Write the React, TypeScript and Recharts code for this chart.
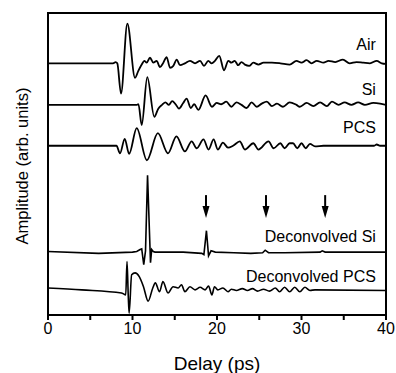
import React from 'react';
import { ComposedChart, Line, XAxis, YAxis, Scatter, ReferenceArea } from 'recharts';

const X_TICKS = [0, 5, 10, 15, 20, 25, 30, 35, 40];
const Y_TICKS = [0, 1, 2, 3, 4];
const TRACE_NAMES = ['Air', 'Si', 'PCS', 'Deconvolved Si', 'Deconvolved PCS'];
const BASELINES = [4.0, 3.34, 2.69, 1.0, 0.4];

// [delay (ps), amplitude relative to trace baseline]
const AIR: [number, number][] = [
  [0, 0], [7.7, 0], [8.0, 0.02], [8.2, 0], [8.64, -0.48], [9.39, 0.63], [10.3, -0.23],
  [10.69, -0.12], [11.09, -0.02], [11.4, 0.04], [11.68, 0.01], [12.07, 0.09], [12.46, 0.01],
  [12.86, 0.04], [13.25, -0.06], [13.65, 0.01], [14.04, 0.1], [14.44, -0.07], [14.83, -0.04],
  [15.23, 0.06], [15.62, -0.03], [16.2, 0], [16.8, 0.04], [17.4, 0], [18.0, 0.04],
  [18.46, -0.04], [18.97, 0.04], [19.37, 0], [19.76, 0.04], [20.27, 0.12], [20.83, -0.11],
  [21.34, 0.04], [21.7, 0.01], [22.1, 0.04], [22.5, -0.03], [22.9, 0.02], [23.3, -0.02],
  [23.8, -0.04], [24.3, 0.01], [24.9, -0.02], [25.5, 0.01], [26.5, 0.01], [27.5, 0],
  [28.6, -0.02], [29.4, 0.04], [30.0, 0.01], [30.6, 0.05], [31.2, 0], [31.8, 0.04],
  [32.6, 0.01], [33.2, 0.04], [34.0, 0.02], [34.9, 0.06], [35.7, 0], [36.5, 0.02],
  [37.3, 0.01], [38.1, 0], [38.9, 0.04], [39.5, 0], [40, -0.01],
];

const SI: [number, number][] = [
  [0, 0], [10.5, 0], [10.7, 0.01], [11.09, -0.32], [11.75, 0.44], [12.58, -0.19],
  [13.05, -0.06], [13.5, 0], [13.9, 0.04], [14.3, 0], [14.7, 0.06], [15.1, 0.01],
  [15.5, -0.06], [16.0, 0.03], [16.4, 0.1], [16.9, -0.05], [17.3, 0.01], [17.8, -0.08],
  [18.65, 0.15], [19.4, -0.03], [19.96, 0.03], [20.5, 0.01], [21.1, 0.05], [21.7, -0.03],
  [22.3, 0.04], [22.9, 0], [23.5, -0.05], [24.1, 0.04], [24.7, -0.03], [25.3, 0.02],
  [25.9, 0.05], [26.5, -0.02], [27.1, 0.02], [27.8, -0.03], [28.6, 0.04], [29.4, 0],
  [29.8, -0.03], [30.6, 0.03], [31.4, -0.02], [32.2, 0.04], [33.0, -0.02], [33.6, 0.05],
  [34.4, 0], [35.1, 0.04], [35.9, 0], [36.7, 0.04], [37.5, 0], [38.5, 0.03], [39.3, 0.02],
  [40, 0],
];

const PCS: [number, number][] = [
  [0, 0], [8.1, 0], [8.52, -0.12], [9.08, 0.11], [9.6, -0.13], [10.5, 0.28], [11.7, -0.23],
  [13.0, 0.2], [14.2, -0.12], [15.2, 0.15], [16.2, -0.09], [17.0, 0.07], [17.6, -0.04],
  [18.4, 0.1], [19.0, -0.06], [19.6, 0.1], [20.1, -0.06], [20.7, 0.05], [21.3, -0.03],
  [21.9, 0], [22.7, 0.07], [23.3, -0.06], [24.3, 0.04], [24.9, -0.06], [26.1, 0.07],
  [26.7, -0.04], [27.5, 0.04], [28.0, -0.04], [28.6, 0.04], [29.0, 0.04], [29.5, -0.04],
  [30.0, 0.04], [30.5, -0.04], [31.0, 0.03], [31.6, -0.01], [32.6, 0], [38.6, 0],
  [38.9, 0.02], [39.3, 0], [40, 0],
];

const DECONV_SI: [number, number][] = [
  [0, 0.01], [6, -0.02], [10, 0], [10.5, 0.01], [10.9, 0.04], [11.09, 0.05], [11.33, -0.2],
  [11.54, 0.02], [11.78, 1.22], [12.13, -0.17], [12.27, 0.04], [12.46, 0.01], [12.66, 0],
  [16, 0], [18.2, -0.02], [18.45, -0.04], [18.75, 0.34], [19.0, -0.06], [19.3, 0.02],
  [19.8, 0], [22, -0.01], [24, -0.02], [25.4, -0.01], [25.7, 0.03], [26.1, -0.01],
  [28, -0.01], [32.2, 0], [32.45, 0.02], [32.8, 0], [40, 0],
];

const DECONV_PCS: [number, number][] = [
  [0, 0.03], [4, 0], [8.7, -0.05], [9.0, -0.07], [9.2, -0.08], [9.35, 0.45], [9.5, -0.1],
  [9.6, -0.37], [9.9, 0.24], [10.3, 0.27], [10.8, 0.21], [11.3, 0.05], [11.85, -0.18],
  [12.4, 0.03], [12.7, 0.11], [13.2, -0.03], [13.6, 0.13], [14.2, -0.05], [14.8, 0.05],
  [15.4, 0.03], [15.8, 0.08], [16.2, -0.03], [16.8, 0.05], [17.4, 0], [18.0, 0.04],
  [18.6, 0], [19.0, 0.06], [19.4, -0.08], [19.7, 0.05], [20.1, 0], [20.7, 0.03],
  [21.3, -0.03], [21.7, 0.01], [22.3, -0.01], [23.0, 0.02], [23.6, -0.01], [24.2, 0.02],
  [24.8, -0.02], [25.5, 0.01], [26.2, -0.02], [26.9, 0.03], [27.4, -0.03], [28.0, 0.04],
  [28.6, -0.03], [29.2, 0.04], [29.8, -0.03], [30.4, 0.04], [31.0, -0.01], [31.6, 0],
  [40, -0.01],
];

const TRACES = [AIR, SI, PCS, DECONV_SI, DECONV_PCS];
const LINE_WIDTHS = [1.8, 1.8, 1.8, 1.6, 1.6];
const LINE_TYPES: ('monotone' | 'linear')[] = ['monotone', 'monotone', 'monotone', 'linear', 'monotone'];

const ARROW_X = [18.7, 25.8, 32.8];
const ARROW_TIP_Y = 1.54;

const LABEL_X = 38.8;
const LABEL_Y = [4.21, 3.5, 2.89, 1.16, 0.53];

const FONT = 'Liberation Sans, Arial, Helvetica, sans-serif';

const series = TRACES.map((tr, i) =>
  tr.map(([x, a]) => ({ x, y: BASELINES[i] + a }))
);
const arrowData = ARROW_X.map((x) => ({ x, y: ARROW_TIP_Y }));
const labelData = TRACE_NAMES.map((name, i) => ({ x: LABEL_X, y: LABEL_Y[i], name }));
const frameAnchor = [{ x: 0, y: 0 }, { x: 40, y: 4.8 }];

const ArrowShape = (props: any) => {
  const { cx, cy } = props;
  return (
    <g>
      <line x1={cx} y1={cy - 23} x2={cx} y2={cy - 10} stroke="#000" strokeWidth={2} />
      <path d={`M${cx - 3.5},${cy - 12} L${cx + 3.5},${cy - 12} L${cx},${cy} Z`} fill="#000" />
    </g>
  );
};

const LabelShape = (props: any) => {
  const { cx, cy, payload } = props;
  return (
    <text x={cx} y={cy} textAnchor="end" fontSize={16} fontFamily={FONT} fill="#000">
      {payload.name}
    </text>
  );
};

const YLabel = (props: any) => {
  const vb = props.viewBox || {};
  const cx = (vb.x || 0) + 22;
  const cy = (vb.y || 0) + (vb.height || 0) / 2 + 2;
  return (
    <text
      x={cx}
      y={cy}
      textAnchor="middle"
      dominantBaseline="central"
      transform={`rotate(-90 ${cx} ${cy})`}
      fontSize={16.5}
      fontFamily={FONT}
      fill="#000"
    >
      Amplitude (arb. units)
    </text>
  );
};

export default function App() {
  return (
    <div style={{ position: 'absolute', left: 0, top: 0, background: '#fff' }}>
      <ComposedChart
        width={396}
        height={373}
        margin={{ top: 13, right: 9, bottom: 0, left: 0 }}
      >
        <XAxis
          dataKey="x"
          type="number"
          domain={[0, 40]}
          ticks={X_TICKS}
          allowDataOverflow
          height={58}
          tickSize={5}
          tickMargin={3}
          tickFormatter={(v: number) => (v % 10 === 0 ? String(v) : '')}
          axisLine={{ stroke: '#000', strokeWidth: 2 }}
          tickLine={{ stroke: '#000', strokeWidth: 2 }}
          tick={{ fill: '#000', fontSize: 16, fontFamily: FONT }}
          label={{
            value: 'Delay (ps)',
            position: 'insideBottom',
            offset: 3,
            fill: '#000',
            fontSize: 19,
            fontFamily: FONT,
          }}
        />
        <XAxis
          xAxisId="top"
          orientation="top"
          dataKey="x"
          type="number"
          domain={[0, 40]}
          ticks={X_TICKS}
          allowDataOverflow
          height={1}
          mirror
          tick={false}
          tickSize={5}
          axisLine={{ stroke: '#000', strokeWidth: 2 }}
          tickLine={{ stroke: '#000', strokeWidth: 2 }}
        />
        <YAxis
          type="number"
          domain={[0, 4.8]}
          ticks={Y_TICKS}
          allowDataOverflow
          width={48}
          tick={false}
          tickSize={8}
          axisLine={{ stroke: '#000', strokeWidth: 2 }}
          tickLine={{ stroke: '#000', strokeWidth: 2 }}
          label={<YLabel />}
        />
        <YAxis
          yAxisId="right"
          orientation="right"
          type="number"
          domain={[0, 4.8]}
          allowDataOverflow
          width={1}
          tick={false}
          tickLine={false}
          axisLine={{ stroke: '#000', strokeWidth: 2 }}
        />
        <ReferenceArea
          x1={0}
          x2={40}
          y1={0}
          y2={4.8}
          fill="none"
          stroke="#000"
          strokeWidth={2}
          ifOverflow="extendDomain"
        />
        <Line
          xAxisId="top"
          yAxisId="right"
          data={frameAnchor}
          dataKey="y"
          stroke="none"
          dot={false}
          activeDot={false}
          isAnimationActive={false}
        />
        {series.map((d, i) => (
          <Line
            key={TRACE_NAMES[i]}
            data={d}
            dataKey="y"
            type={LINE_TYPES[i]}
            stroke="#000"
            strokeWidth={LINE_WIDTHS[i]}
            dot={false}
            activeDot={false}
            isAnimationActive={false}
          />
        ))}
        <Scatter data={arrowData} dataKey="y" shape={<ArrowShape />} isAnimationActive={false} />
        <Scatter data={labelData} dataKey="y" shape={<LabelShape />} isAnimationActive={false} />
      </ComposedChart>
    </div>
  );
}
